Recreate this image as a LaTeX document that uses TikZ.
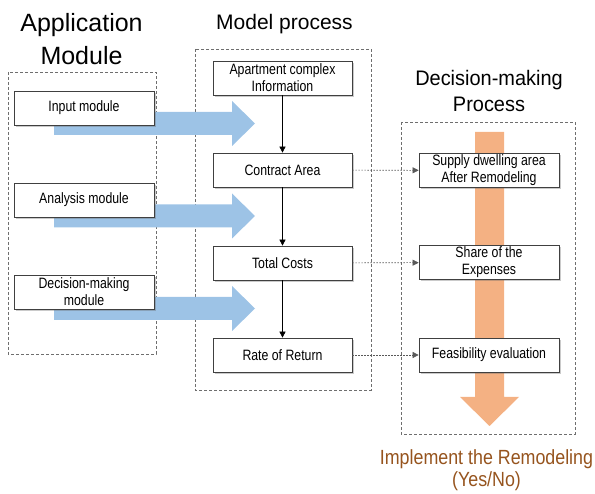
\documentclass[tikz,border=0pt]{standalone}
\usepackage{fontspec}
\setmainfont{Liberation Sans}
\newfontfamily\boxfont[FakeStretch=0.82]{Liberation Sans}
\newfontfamily\titlefont[FakeStretch=0.95]{Liberation Sans}
\newfontfamily\resultfont[FakeStretch=0.87]{Liberation Sans}
\usetikzlibrary{shadows,arrows.meta}
\definecolor{flowblue}{RGB}{157,195,230}
\definecolor{floworange}{RGB}{244,177,131}
\definecolor{dashgray}{RGB}{110,110,110}
\definecolor{resultbrown}{RGB}{150,84,30}
\begin{document}
\begin{tikzpicture}[x=1pt,y=-1pt,
  panel/.style={draw=dashgray,dash pattern=on 3pt off 2pt,line width=0.7pt},
  stepbox/.style={draw=black!75,fill=white,line width=0.7pt,minimum width=140pt,minimum height=34pt,
    align=center,inner sep=1pt,font=\boxfont\fontsize{15}{17}\selectfont,
    drop shadow={shadow xshift=2pt,shadow yshift=-2pt,opacity=0.35,fill=black!60}},
  modbox/.style={stepbox},
  flow/.style={-{Triangle[length=6pt,width=6pt]},line width=0.6pt},
  link/.style={-{Triangle[length=6pt,width=6pt]},draw=black!65,line width=0.6pt,dash pattern=on 1.5pt off 1.5pt},
  title/.style={align=center}
]
\useasboundingbox (0,0) rectangle (595,494);

% titles
\node[title,font=\fontsize{25}{33}\selectfont] (tapp) at (81.5,39) {Application\\Module};
\node[title,anchor=base,font=\fontsize{21}{25}\selectfont] (tmodel) at (284.5,30) {Model process};
\node[title,font=\titlefont\fontsize{21}{26}\selectfont] (tdec) at (489,90.5) {Decision-making\\Process};

% dashed panels
\draw[panel] (8,72) rectangle (156,354);
\draw[panel] (195,49) rectangle (371,390);
\draw[panel] (401,122) rectangle (575,434);

% broad blue arrows from the modules into the model
\foreach \c/\n in {123.5/a,216/b,308.5/c}{
  \fill[flowblue] (54,\c-11.5) -- (232,\c-11.5) -- (232,\c-22.5) -- (255,\c) -- (232,\c+22.5)
    -- (232,\c+11.5) -- (54,\c+11.5) -- cycle;
}

% orange decision arrow
\fill[floworange] (475,132) -- (504,132) -- (504,397) -- (519,397) -- (489.5,426) -- (460,397) -- (475,397) -- cycle;

% application modules
\node[modbox] (inp) at (84,108) {Input module};
\node[modbox] (ana) at (84,200) {Analysis module};
\node[modbox] (dmm) at (84,292) {Decision-making\\module};

% model process steps
\node[stepbox,minimum width=139pt] (apt) at (282.5,78) {Apartment complex\\Information};
\node[stepbox,minimum width=139pt] (con) at (282.5,170) {Contract Area};
\node[stepbox,minimum width=139pt] (tot) at (282.5,263) {Total Costs};
\node[stepbox,minimum width=139pt] (ror) at (282.5,355) {Rate of Return};

% decision steps
\node[stepbox] (sup) at (489,170.5) {Supply dwelling area\\After Remodeling};
\node[stepbox] (sha) at (489,262.5) {Share of the\\Expenses};
\node[stepbox] (fea) at (489,355) {Feasibility evaluation};

% connectors
\draw[flow] (apt) -- (con);
\draw[flow] (con) -- (tot);
\draw[flow] (tot) -- (ror);
\draw[link] (con) -- (sup);
\draw[link] (tot) -- (sha);
\draw[link] (ror) -- (fea);

% outcome
\node[title,text=resultbrown,font=\resultfont\fontsize{20.5}{22}\selectfont] (res) at (486.5,470.5) {Implement the Remodeling\\(Yes/No)};
\end{tikzpicture}
\end{document}
